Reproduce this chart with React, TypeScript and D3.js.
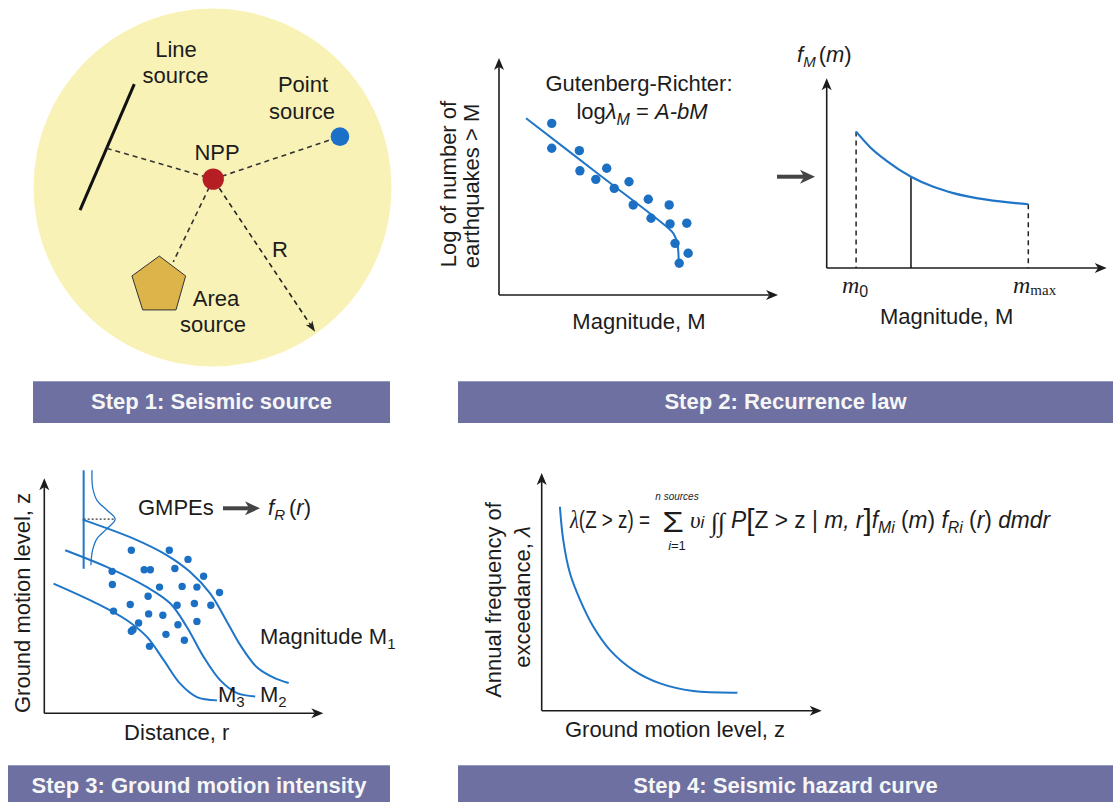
import React from 'react';
import * as d3 from 'd3';

// ---------- Step 1: seismic sources around the site (unit-circle map coordinates) ----------
const siteXY: [number, number] = [0.004, 0.047];
const pointSourceXY: [number, number] = [0.712, 0.284];
const lineSourceEnds: [number, number][] = [[-0.437, 0.578], [-0.74, -0.126]];
const lineSourceFoot: [number, number] = [-0.591, 0.219];
const areaSourcePolygon: [number, number][] = [
  [-0.297, -0.383], [-0.15, -0.494], [-0.204, -0.684], [-0.39, -0.684], [-0.45, -0.494],
];
const areaSourceEdge: [number, number] = [-0.219, -0.415];
const radiusArrowEnd: [number, number] = [0.573, -0.806];

// ---------- Step 2: Gutenberg-Richter catalogue and fit ----------
const grMagnitude = [1.89, 1.89, 2.88, 2.9, 3.47, 3.86, 4.13, 4.66, 4.81, 5.35, 5.45, 6.1, 6.13, 6.31, 6.73, 6.78, 6.46];
const grLogCount = [7.24, 6.19, 6.09, 5.24, 4.88, 5.35, 4.5, 4.78, 3.8, 4.04, 3.24, 3.8, 3.0, 2.18, 3.03, 1.76, 1.34];
const grFit: [number, number][] = [[0.97, 7.46], [3.49, 5.17], [6.01, 2.88], [6.25, 2.6], [6.39, 2.18], [6.44, 1.48]];

// Magnitude density f_M(m) between m0 and mmax
const pdfMagnitude = [1.05, 1.55, 2.14, 3.01, 3.81, 4.52, 5.71, 7.2];
const pdfDensity = [7.19, 6.37, 5.65, 4.81, 4.28, 3.95, 3.6, 3.36];
const M0_INDEX = 0;
const SAMPLE_INDEX = 3;
const MMAX_INDEX = 7;

// ---------- Step 3: ground-motion attenuation ----------
const m1Curve: [number, number][] = [[1.37, 8.24], [3.2, 7.43], [4.4, 6.72], [5.23, 6.01], [5.95, 5.09], [6.55, 3.89], [7.03, 2.89], [7.62, 1.96], [8.22, 1.52], [8.76, 1.29]];
const m2Curve: [number, number][] = [[0.75, 6.94], [2.37, 6.16], [3.68, 5.37], [4.52, 4.67], [5.11, 3.67], [5.71, 2.4], [6.31, 1.4], [6.91, 0.86], [7.56, 0.72]];
const m3Curve: [number, number][] = [[0.33, 5.52], [1.89, 4.67], [2.96, 3.96], [3.68, 3.25], [4.28, 2.26], [4.87, 1.26], [5.47, 0.69], [6.19, 0.55]];
const gmDistance = [3.12, 4.48, 5.15, 3.58, 3.8, 4.68, 2.43, 5.71, 2.44, 4.13, 4.94, 5.47, 3.72, 6.28, 3.08, 4.76, 5.38, 5.97, 2.48, 3.74, 4.25, 3.38, 4.79, 5.47, 3.18, 4.36, 5.02, 3.77, 3.12];
const gmLevel = [6.94, 6.94, 6.55, 6.11, 6.11, 6.16, 6.04, 5.83, 5.48, 5.37, 5.4, 5.37, 4.98, 5.14, 4.63, 4.6, 4.67, 4.6, 4.35, 4.23, 4.17, 3.84, 3.77, 3.91, 3.56, 3.36, 3.11, 2.85, 3.49];
const spreadAxis = { r: 1.41, top: 10.34, bottom: 6.15, median: 8.26 };
const spreadCurve: [number, number][] = [[1.71, 10.34], [1.73, 9.63], [1.89, 9.06], [2.25, 8.64], [2.54, 8.26], [2.25, 7.86], [1.89, 7.43], [1.73, 6.94], [1.67, 6.3]];

// ---------- Step 4: hazard curve ----------
const hazardLevel = [0.65, 0.77, 1.01, 1.37, 1.84, 2.44, 3.27, 4.23, 5.41, 6.99];
const hazardRate = [8.58, 7.18, 5.78, 4.66, 3.54, 2.55, 1.71, 1.15, 0.83, 0.76];

const stepTitles = ['Step 1: Seismic source', 'Step 2: Recurrence law', 'Step 3: Ground motion intensity', 'Step 4: Seismic hazard curve'];

const SANS = '"Liberation Sans", Arial, Helvetica, sans-serif';
const SERIF = '"Liberation Serif", "Times New Roman", serif';
const INK = '#1c1c1c';
const BLUE = '#1f75c8';
const DOT = '#1c70c3';
const BANNER = '#6d70a0';
const CIRCLE = '#f9f2b7';

type Pt = [number, number];

function Arrow({ x1, y1, x2, y2, color = INK, sw = 1.6, len = 12, wid = 10, dash }: any) {
  const a = Math.atan2(y2 - y1, x2 - x1);
  const c = Math.cos(a), s = Math.sin(a);
  const bx = x2 - c * len, by = y2 - s * len;
  const nx = x2 - c * len * 0.72, ny = y2 - s * len * 0.72;
  const px = -s * wid / 2, py = c * wid / 2;
  return (
    <g>
      <line x1={x1} y1={y1} x2={nx} y2={ny} stroke={color} strokeWidth={sw} strokeDasharray={dash} />
      <path d={`M${x2},${y2}L${bx + px},${by + py}L${nx},${ny}L${bx - px},${by - py}Z`} fill={color} />
    </g>
  );
}

function Banner({ x, y, w, text }: { x: number; y: number; w: number; text: string }) {
  return (
    <g>
      <rect x={x} y={y} width={w} height={42} fill={BANNER} />
      <line x1={x} x2={x + w} y1={y + 0.5} y2={y + 0.5} stroke="#9597c0" strokeWidth={1} />
      <text x={x + w / 2} y={y + 28} textAnchor="middle" fill="#f6f6f6" fontFamily={SANS} fontWeight="bold" fontSize={22}>
        {text}
      </text>
    </g>
  );
}

export default function App() {
  // Step 1 map
  const mapX = d3.scaleLinear().domain([-1, 1]).range([33.5, 391.5]);
  const mapY = d3.scaleLinear().domain([1, -1]).range([8.5, 366.5]);
  const P = (p: Pt): Pt => [mapX(p[0]), mapY(p[1])];
  const site = P(siteXY);
  const ptSrc = P(pointSourceXY);
  const lsA = P(lineSourceEnds[0]);
  const lsB = P(lineSourceEnds[1]);
  const lsFoot = P(lineSourceFoot);
  const areaEdge = P(areaSourceEdge);
  const rEnd = P(radiusArrowEnd);
  const poly = areaSourcePolygon.map(P).map((p) => p.join(',')).join(' ');
  const a0 = Math.atan2(rEnd[1] - site[1], rEnd[0] - site[0]);
  const rStart: Pt = [site[0] + Math.cos(a0) * 11, site[1] + Math.sin(a0) * 11];

  // Step 2 scales
  const grX = d3.scaleLinear().domain([0, 10]).range([499, 778]);
  const grY = d3.scaleLinear().domain([0, 10]).range([295, 58]);
  const grLine = d3.line<Pt>().x((d) => grX(d[0])).y((d) => grY(d[1])).curve(d3.curveCatmullRom);

  const pdfX = d3.scaleLinear().domain([0, 10]).range([826.7, 1106.7]);
  const pdfY = d3.scaleLinear().domain([0, 10]).range([268, 78.3]);
  const pdfPts: Pt[] = pdfMagnitude.map((m, i) => [m, pdfDensity[i]]);
  const pdfLine = d3.line<Pt>().x((d) => pdfX(d[0])).y((d) => pdfY(d[1])).curve(d3.curveMonotoneX);

  // Step 3 scales
  const gmX = d3.scaleLinear().domain([0, 10]).range([44.3, 323.3]);
  const gmY = d3.scaleLinear().domain([0, 10]).range([713.3, 478.3]);
  const gmLine = d3.line<Pt>().x((d) => gmX(d[0])).y((d) => gmY(d[1])).curve(d3.curveCatmullRom);

  // Step 4 scales
  const hzX = d3.scaleLinear().domain([0, 10]).range([541.7, 821.7]);
  const hzY = d3.scaleLinear().domain([0, 10]).range([710.7, 473]);
  const hzPts: Pt[] = hazardLevel.map((z, i) => [z, hazardRate[i]]);
  const hzLine = d3.line<Pt>().x((d) => hzX(d[0])).y((d) => hzY(d[1])).curve(d3.curveCatmullRom);

  const dash = '5,4';

  return (
    <svg width={1118} height={802} style={{ position: 'absolute', left: 0, top: 0, background: '#fff' }} fontFamily={SANS} fill={INK}>
      {/* ===== Step 1 ===== */}
      <circle cx={mapX(0)} cy={mapY(0)} r={mapX(1) - mapX(0)} fill={CIRCLE} />
      <line x1={lsA[0]} y1={lsA[1]} x2={lsB[0]} y2={lsB[1]} stroke="#111" strokeWidth={3} />
      <line x1={lsFoot[0]} y1={lsFoot[1]} x2={site[0]} y2={site[1]} stroke="#333" strokeWidth={1.6} strokeDasharray={dash} />
      <line x1={site[0]} y1={site[1]} x2={ptSrc[0]} y2={ptSrc[1]} stroke="#333" strokeWidth={1.6} strokeDasharray={dash} />
      <line x1={site[0]} y1={site[1]} x2={areaEdge[0]} y2={areaEdge[1]} stroke="#333" strokeWidth={1.6} strokeDasharray={dash} />
      <Arrow x1={rStart[0]} y1={rStart[1]} x2={rEnd[0]} y2={rEnd[1]} color="#222" sw={1.6} len={11} wid={8} dash={dash} />
      <polygon points={poly} fill="#ddb44a" stroke="#333" strokeWidth={1} />
      <circle cx={site[0]} cy={site[1]} r={10.7} fill="#b51f24" />
      <circle cx={ptSrc[0]} cy={ptSrc[1]} r={9.3} fill="#1b70c8" />
      <g fontSize={22} textAnchor="middle">
        <text x={176} y={57}>Line</text>
        <text x={175.5} y={83}>source</text>
        <text x={303} y={92}>Point</text>
        <text x={302} y={119}>source</text>
        <text x={217} y={160}>NPP</text>
        <text x={280} y={257}>R</text>
        <text x={216} y={306}>Area</text>
        <text x={213} y={332}>source</text>
      </g>
      <Banner x={33} y={381} w={357} text={stepTitles[0]} />

      {/* ===== Step 2: Gutenberg-Richter ===== */}
      <Arrow x1={grX(0)} y1={grY(0)} x2={grX(10)} y2={grY(0)} />
      <Arrow x1={grX(0)} y1={grY(0)} x2={grX(0)} y2={grY(10)} />
      <path d={grLine(grFit) || ''} fill="none" stroke={BLUE} strokeWidth={2} />
      {grMagnitude.map((m, i) => (
        <circle key={i} cx={grX(m)} cy={grY(grLogCount[i])} r={4.7} fill={DOT} />
      ))}
      <g fontSize={22}>
        <text x={639} y={91} textAnchor="middle">Gutenberg-Richter:</text>
        <text x={642} y={119} textAnchor="middle">
          log<tspan fontStyle="italic">λ</tspan>
          <tspan fontStyle="italic" fontSize={16} dy={6}>M</tspan>
          <tspan dy={-6}> = </tspan>
          <tspan fontStyle="italic">A-bM</tspan>
        </text>
        <text transform="translate(456,184) rotate(-90)" textAnchor="middle">Log of number of</text>
        <text transform="translate(479,186) rotate(-90)" textAnchor="middle">earthquakes &gt; M</text>
        <text x={639} y={329} textAnchor="middle">Magnitude, M</text>
      </g>
      <Arrow x1={777} y1={176.7} x2={815} y2={176.7} color="#444" sw={4} len={15} wid={14} />

      {/* ===== Step 2: magnitude density ===== */}
      <Arrow x1={pdfX(0)} y1={pdfY(0)} x2={pdfX(10)} y2={pdfY(0)} />
      <Arrow x1={pdfX(0)} y1={pdfY(0)} x2={pdfX(0)} y2={pdfY(10)} />
      <line x1={pdfX(pdfMagnitude[M0_INDEX])} x2={pdfX(pdfMagnitude[M0_INDEX])} y1={pdfY(pdfDensity[M0_INDEX])} y2={pdfY(0)} stroke="#222" strokeWidth={1.5} strokeDasharray={dash} />
      <line x1={pdfX(pdfMagnitude[MMAX_INDEX])} x2={pdfX(pdfMagnitude[MMAX_INDEX])} y1={pdfY(pdfDensity[MMAX_INDEX])} y2={pdfY(0)} stroke="#222" strokeWidth={1.5} strokeDasharray={dash} />
      <line x1={pdfX(pdfMagnitude[SAMPLE_INDEX])} x2={pdfX(pdfMagnitude[SAMPLE_INDEX])} y1={pdfY(pdfDensity[SAMPLE_INDEX])} y2={pdfY(0)} stroke="#111" strokeWidth={1.5} />
      <path d={pdfLine(pdfPts) || ''} fill="none" stroke={BLUE} strokeWidth={2.2} />
      <g fontSize={22}>
        <text x={797} y={62}>
          <tspan fontStyle="italic">f</tspan>
          <tspan fontStyle="italic" fontSize={15} dy={5}>M</tspan>
          <tspan dy={-5} dx={3}>(</tspan>
          <tspan fontStyle="italic">m</tspan>)
        </text>
        <text x={842} y={293} fontFamily={SERIF} fontStyle="italic" fontSize={24}>
          m<tspan fontFamily={SANS} fontStyle="normal" fontSize={16} dy={4}>0</tspan>
        </text>
        <text x={1013} y={293} fontFamily={SERIF} fontStyle="italic" fontSize={24}>
          m<tspan fontStyle="normal" fontSize={15} dy={2}>max</tspan>
        </text>
        <text x={946.7} y={324} textAnchor="middle">Magnitude, M</text>
      </g>
      <Banner x={458} y={381} w={655} text={stepTitles[1]} />

      {/* ===== Step 3: ground motion ===== */}
      <Arrow x1={gmX(0)} y1={gmY(0)} x2={gmX(10)} y2={gmY(0)} />
      <Arrow x1={gmX(0)} y1={gmY(0)} x2={gmX(0)} y2={gmY(10)} />
      <line x1={gmX(spreadAxis.r)} x2={gmX(spreadAxis.r)} y1={gmY(spreadAxis.top)} y2={gmY(spreadAxis.bottom)} stroke={BLUE} strokeWidth={2} />
      <path d={gmLine(spreadCurve) || ''} fill="none" stroke={BLUE} strokeWidth={1.3} />
      <line x1={gmX(spreadAxis.r)} x2={gmX(spreadCurve[4][0])} y1={gmY(spreadAxis.median)} y2={gmY(spreadAxis.median)} stroke="#333" strokeWidth={1.3} strokeDasharray="2,2" />
      {[m1Curve, m2Curve, m3Curve].map((c, i) => (
        <path key={i} d={gmLine(c) || ''} fill="none" stroke={BLUE} strokeWidth={2} />
      ))}
      {gmDistance.map((r, i) => (
        <circle key={i} cx={gmX(r)} cy={gmY(gmLevel[i])} r={3.7} fill={DOT} />
      ))}
      <g fontSize={22}>
        <text transform="translate(29.5,603) rotate(-90)" textAnchor="middle">Ground motion level, z</text>
        <text x={176.7} y={740} textAnchor="middle">Distance, r</text>
        <text x={138} y={515}>GMPEs</text>
        <text x={268} y={515}>
          <tspan fontStyle="italic">f</tspan>
          <tspan fontStyle="italic" fontSize={15} dy={5}>R</tspan>
          <tspan dy={-5} dx={4}>(</tspan>
          <tspan fontStyle="italic">r</tspan>)
        </text>
        <text x={260} y={644}>
          Magnitude M<tspan fontSize={15} dy={5}>1</tspan>
        </text>
        <text x={218} y={702}>
          M<tspan fontSize={15} dy={5}>3</tspan>
        </text>
        <text x={260} y={702}>
          M<tspan fontSize={15} dy={5}>2</tspan>
        </text>
      </g>
      <Arrow x1={223} y1={508.3} x2={260} y2={508.3} color="#444" sw={4} len={15} wid={14} />
      <Banner x={8} y={765} w={382} text={stepTitles[2]} />

      {/* ===== Step 4: hazard curve ===== */}
      <Arrow x1={hzX(0)} y1={hzY(0)} x2={hzX(10)} y2={hzY(0)} />
      <Arrow x1={hzX(0)} y1={hzY(0)} x2={hzX(0)} y2={hzY(10)} />
      <path d={hzLine(hzPts) || ''} fill="none" stroke={BLUE} strokeWidth={2} />
      <g fontSize={22}>
        <text transform="translate(501,600) rotate(-90)" textAnchor="middle">Annual frequency of</text>
        <text transform="translate(529.5,597) rotate(-90)" textAnchor="middle">exceedance, <tspan fontStyle="italic">λ</tspan></text>
        <text x={675} y={737} textAnchor="middle">Ground motion level, z</text>
      </g>
      {/* hazard integral */}
      <g fontSize={23}>
        <text x={570} y={528} textLength={80} lengthAdjust="spacingAndGlyphs">
          <tspan fontFamily={SERIF} fontStyle="italic" fontSize={25}>λ</tspan>(Z &gt; z) =
        </text>
        <text x={673} y={532} fontSize={29} textAnchor="middle" transform="translate(673,0) scale(1.2,1) translate(-673,0)">Σ</text>
        <text x={677} y={500} fontSize={10} fontStyle="italic" textAnchor="middle">n sources</text>
        <text x={677} y={550} fontSize={13} textAnchor="middle"><tspan fontStyle="italic">i</tspan>=1</text>
        <text x={690} y={528}>
          <tspan fontFamily={SERIF} fontStyle="italic">υ</tspan>
          <tspan fontStyle="italic" fontSize={17}>i</tspan>
        </text>
        <text x={711} y={531} fontFamily={SERIF} fontStyle="italic" fontSize={26}>∫</text>
        <text x={718} y={531} fontFamily={SERIF} fontStyle="italic" fontSize={26}>∫</text>
        <text x={731} y={528} textLength={319} lengthAdjust="spacingAndGlyphs">
          <tspan fontStyle="italic">P</tspan>
          <tspan fontSize={30} dy={2}>[</tspan>
          <tspan dy={-2}>Z &gt; z | </tspan>
          <tspan fontStyle="italic">m, r</tspan>
          <tspan fontSize={30} dy={2}>]</tspan>
          <tspan fontStyle="italic" dy={-2}>f</tspan>
          <tspan fontStyle="italic" fontSize={16} dy={5}>Mi</tspan>
          <tspan dy={-5}> (</tspan>
          <tspan fontStyle="italic">m</tspan>
          <tspan>) </tspan>
          <tspan fontStyle="italic">f</tspan>
          <tspan fontStyle="italic" fontSize={16} dy={5}>Ri</tspan>
          <tspan dy={-5}> (</tspan>
          <tspan fontStyle="italic">r</tspan>
          <tspan>) </tspan>
          <tspan fontStyle="italic">dmdr</tspan>
        </text>
      </g>
      <Banner x={458} y={765} w={655} text={stepTitles[3]} />
    </svg>
  );
}
